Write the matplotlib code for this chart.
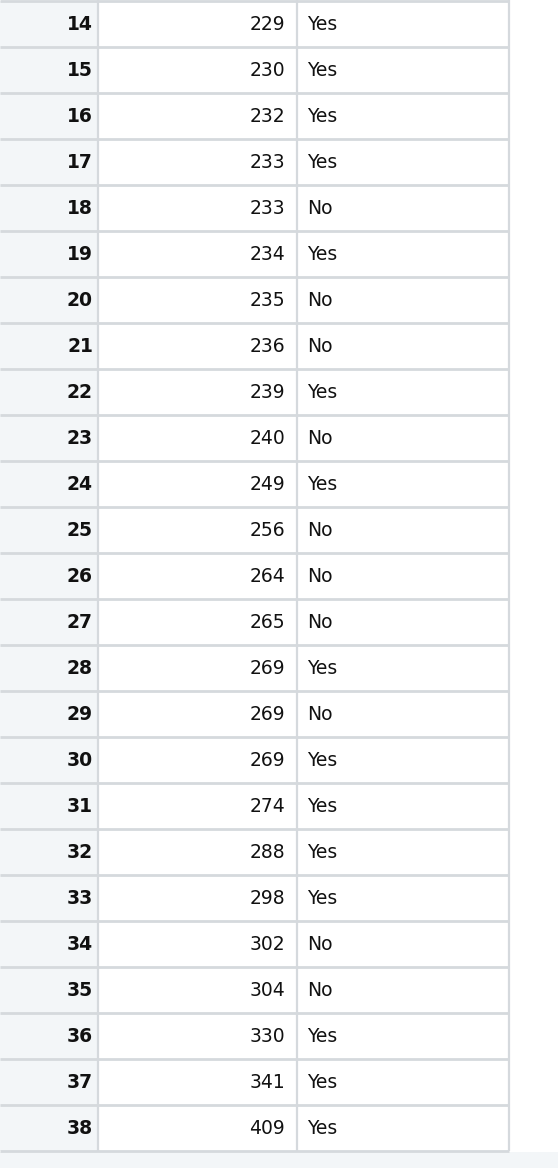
import matplotlib
matplotlib.use("Agg")
import matplotlib.pyplot as plt

# ── Data ──────────────────────────────────────────────────────────────────────
row_ids = list(range(14, 39))
values = [229, 230, 232, 233, 233, 234, 235, 236, 239, 240, 249, 256, 264,
          265, 269, 269, 269, 274, 288, 298, 302, 304, 330, 341, 409]
answers = ["Yes", "Yes", "Yes", "Yes", "No", "Yes", "No", "No", "Yes", "No",
           "Yes", "No", "No", "No", "Yes", "No", "Yes", "Yes", "Yes", "Yes",
           "No", "No", "Yes", "Yes", "Yes"]

# ── Layout (pixels) ───────────────────────────────────────────────────────────
W, H = 558, 1168
ROW_H = 46
TOP = 1
X_IDX, X_VAL, X_TXT, X_END = 0, 98, 297, 509
GRID = "#d5d9dd"
IDX_BG = "#f3f6f8"
FS = 13.5

fig = plt.figure(figsize=(W / 100, H / 100), dpi=100)
ax = fig.add_axes([0, 0, 1, 1])
ax.set_xlim(0, W)
ax.set_ylim(H, 0)
ax.axis("off")

n = len(row_ids)
bottom = TOP + n * ROW_H
ax.add_patch(plt.Rectangle((X_IDX, TOP), X_VAL - X_IDX, n * ROW_H,
                           color=IDX_BG, lw=0, zorder=0))
ax.add_patch(plt.Rectangle((0, bottom + 1), W, H - bottom, color=IDX_BG,
                           lw=0, zorder=0))

for i in range(n + 1):
    y = TOP + i * ROW_H
    ax.plot([0, X_END], [y, y], color=GRID, lw=2, solid_capstyle="butt")
for x in (X_VAL, X_TXT, X_END):
    ax.plot([x, x], [0, bottom], color=GRID, lw=1.6, solid_capstyle="butt")

for i, (rid, v, a) in enumerate(zip(row_ids, values, answers)):
    yc = TOP + i * ROW_H + ROW_H / 2 + 1
    ax.text(93, yc, str(rid), ha="right", va="center", fontsize=FS,
            fontweight="bold", color="#111111")
    ax.text(285, yc, str(v), ha="right", va="center", fontsize=FS,
            color="#111111")
    ax.text(307, yc, a, ha="left", va="center", fontsize=FS,
            color="#111111")

fig.savefig("out.png", dpi=100)
